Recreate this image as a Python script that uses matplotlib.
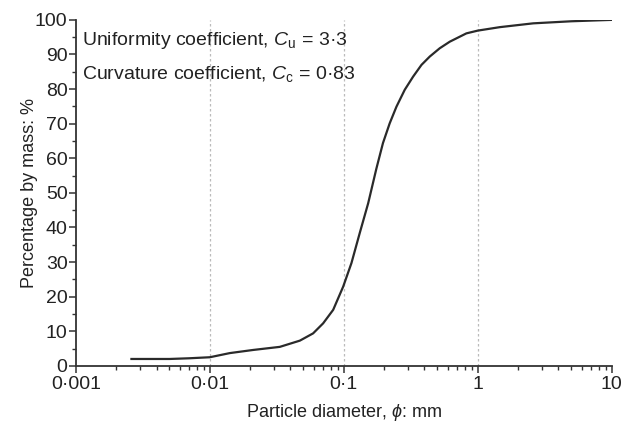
import matplotlib
matplotlib.use("Agg")
import matplotlib.pyplot as plt
from matplotlib.ticker import FixedLocator, FuncFormatter, LogLocator, MultipleLocator, NullFormatter

plt.rcParams['font.family'] = ['Liberation Sans', 'DejaVu Sans']
plt.rcParams['mathtext.fontset'] = 'custom'
plt.rcParams['mathtext.rm'] = 'Liberation Sans'
plt.rcParams['mathtext.it'] = 'Liberation Sans:italic'

# Curva granulométrica
diametro = [0.0026, 0.0035, 0.005, 0.007, 0.01, 0.0141, 0.021, 0.0333, 0.047, 0.059,
            0.0701, 0.0833, 0.0989, 0.114, 0.1315, 0.152, 0.175, 0.196, 0.220, 0.247,
            0.285, 0.329, 0.380, 0.438, 0.520, 0.618, 0.822, 1.0, 1.46, 2.59, 5.0, 10.0]
porcentaje = [2.0, 2.0, 2.0, 2.2, 2.5, 3.7, 4.6, 5.5, 7.3, 9.4,
              12.3, 16.2, 22.9, 29.7, 38.4, 47.0, 57.0, 64.4, 70.1, 74.9,
              79.8, 83.6, 87.0, 89.4, 91.8, 93.7, 96.1, 96.9, 97.9, 99.0, 99.6, 100.0]

x_ticks = [0.001, 0.01, 0.1, 1, 10]
x_labels = ['0·001', '0·01', '0·1', '1', '10']
grid_x = [0.01, 0.1, 1]

fig = plt.figure(figsize=(6.32, 4.23), dpi=100)
ax = fig.add_axes([0.120, 0.135, 0.848, 0.818])

color = '#333333'
ax.plot(diametro, porcentaje, color='#2a2a2a', lw=1.6)
for g in grid_x:
    ax.axvline(g, color='#bbbbbb', lw=0.9, ls=(0, (2, 2)), zorder=0)

ax.set_xscale('log')
ax.set_xlim(0.001, 10)
ax.set_ylim(0, 100)

ax.xaxis.set_major_locator(FixedLocator(x_ticks))
ax.xaxis.set_major_formatter(FuncFormatter(lambda v, p: x_labels[x_ticks.index(v)] if v in x_ticks else ''))
ax.xaxis.set_minor_locator(LogLocator(base=10, subs=range(2, 10)))
ax.xaxis.set_minor_formatter(NullFormatter())
ax.yaxis.set_major_locator(MultipleLocator(10))
ax.yaxis.set_minor_locator(MultipleLocator(5))

for s in ['top', 'right']:
    ax.spines[s].set_visible(False)
for s in ['left', 'bottom']:
    ax.spines[s].set_color(color)
    ax.spines[s].set_linewidth(1.3)

fs = 14
ax.tick_params(which='major', direction='out', length=5, width=1.1, color=color,
               labelsize=fs, labelcolor='#222222')
ax.tick_params(axis='x', which='major', pad=2.5)
ax.tick_params(axis='y', which='major', pad=1)
ax.tick_params(which='minor', direction='out', length=3, width=1.0, color=color)

ax.set_xlabel('Particle diameter, $\\phi$: mm', fontsize=13, color='#222222', labelpad=6)
ax.set_ylabel('Percentage by mass: %', fontsize=13, color='#222222', labelpad=-2)

ax.text(0.011, 0.94, 'Uniformity coefficient, $C_\\mathrm{u}$ = 3·3', transform=ax.transAxes,
        fontsize=fs, color='#222222', va='center')
ax.text(0.011, 0.845, 'Curvature coefficient, $C_\\mathrm{c}$ = 0·83', transform=ax.transAxes,
        fontsize=fs, color='#222222', va='center')

fig.savefig('out.png', dpi=100, facecolor='white')
